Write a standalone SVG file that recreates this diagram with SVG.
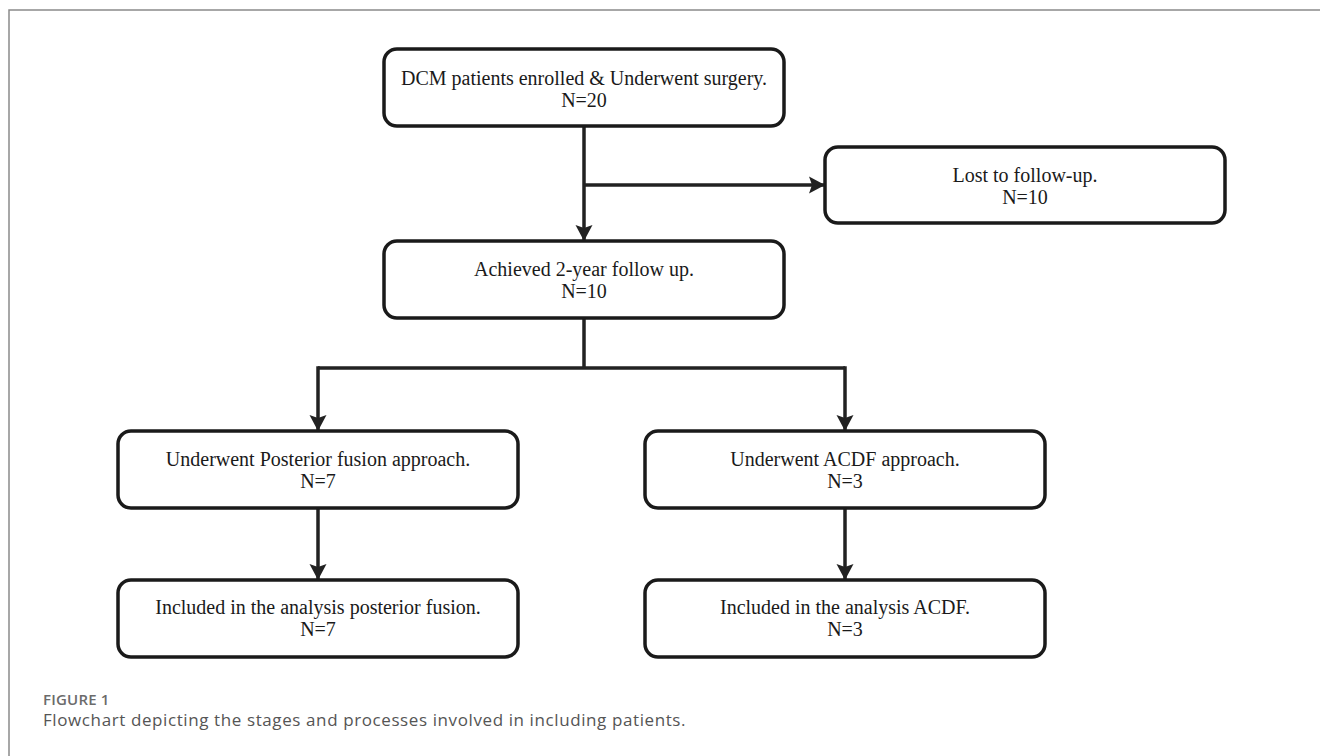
<svg xmlns="http://www.w3.org/2000/svg" width="1320" height="756" viewBox="0 0 1320 756">
<style>
.box{fill:#fff;stroke:#1a1a1a;stroke-width:3.5}
.t{font-family:"Liberation Serif","Times New Roman",serif;font-size:20px;fill:#1a1a1a;text-anchor:middle}
.c{fill:none;stroke:#222;stroke-width:3.5}
.frame{fill:none;stroke:#8a8a8a;stroke-width:1.5}
.fig{font-family:"Open Sans","Noto Sans",sans-serif;font-size:15px;font-weight:600;fill:#6b6b6b;letter-spacing:0.2px}
.cap{font-family:"Open Sans","Noto Sans",sans-serif;font-size:17px;fill:#555;letter-spacing:0.6px}
</style>
<defs>
<marker id="ah" markerUnits="userSpaceOnUse" markerWidth="18" markerHeight="18" viewBox="0 0 16 18" refX="15" refY="9" orient="auto">
<path d="M0,0.5 L16,9 L0,17.5 L3,9 Z" fill="#222"/>
</marker>
</defs>
<rect width="1320" height="756" fill="#fff"/>
<path class="frame" d="M9,756 V10 H1320"/>
<g id="connectors">
<path class="c" d="M584,127 V240" marker-end="url(#ah)"/>
<path class="c" d="M584,185 H824" marker-end="url(#ah)"/>
<path class="c" d="M584,318 V368 M318,368 H845"/>
<path class="c" d="M318,366.25 V430" marker-end="url(#ah)"/>
<path class="c" d="M845,366.25 V430" marker-end="url(#ah)"/>
<path class="c" d="M318,508 V579" marker-end="url(#ah)"/>
<path class="c" d="M845,508 V579" marker-end="url(#ah)"/>
</g>
<g id="n-enrolled">
<rect class="box" x="384" y="49" width="400" height="77" rx="13"/>
<text class="t" x="584" y="85">DCM patients enrolled &amp; Underwent surgery.</text>
<text class="t" x="584" y="107">N=20</text>
</g>
<g id="n-lost">
<rect class="box" x="825" y="147" width="400" height="76" rx="13"/>
<text class="t" x="1025" y="182">Lost to follow-up.</text>
<text class="t" x="1025" y="204">N=10</text>
</g>
<g id="n-achieved">
<rect class="box" x="384" y="241" width="400" height="77" rx="13"/>
<text class="t" x="584" y="276">Achieved 2-year follow up.</text>
<text class="t" x="584" y="298">N=10</text>
</g>
<g id="n-posterior">
<rect class="box" x="118" y="431" width="400" height="77" rx="13"/>
<text class="t" x="318" y="466">Underwent Posterior fusion approach.</text>
<text class="t" x="318" y="488">N=7</text>
</g>
<g id="n-acdf">
<rect class="box" x="645" y="431" width="400" height="77" rx="13"/>
<text class="t" x="845" y="466">Underwent ACDF approach.</text>
<text class="t" x="845" y="488">N=3</text>
</g>
<g id="n-incl-posterior">
<rect class="box" x="118" y="580" width="400" height="77" rx="13"/>
<text class="t" x="318" y="614">Included in the analysis posterior fusion.</text>
<text class="t" x="318" y="636">N=7</text>
</g>
<g id="n-incl-acdf">
<rect class="box" x="645" y="580" width="400" height="77" rx="13"/>
<text class="t" x="845" y="614">Included in the analysis ACDF.</text>
<text class="t" x="845" y="636">N=3</text>
</g>
<text class="fig" x="43" y="705">FIGURE 1</text>
<text class="cap" x="43" y="726">Flowchart depicting the stages and processes involved in including patients.</text>
</svg>
